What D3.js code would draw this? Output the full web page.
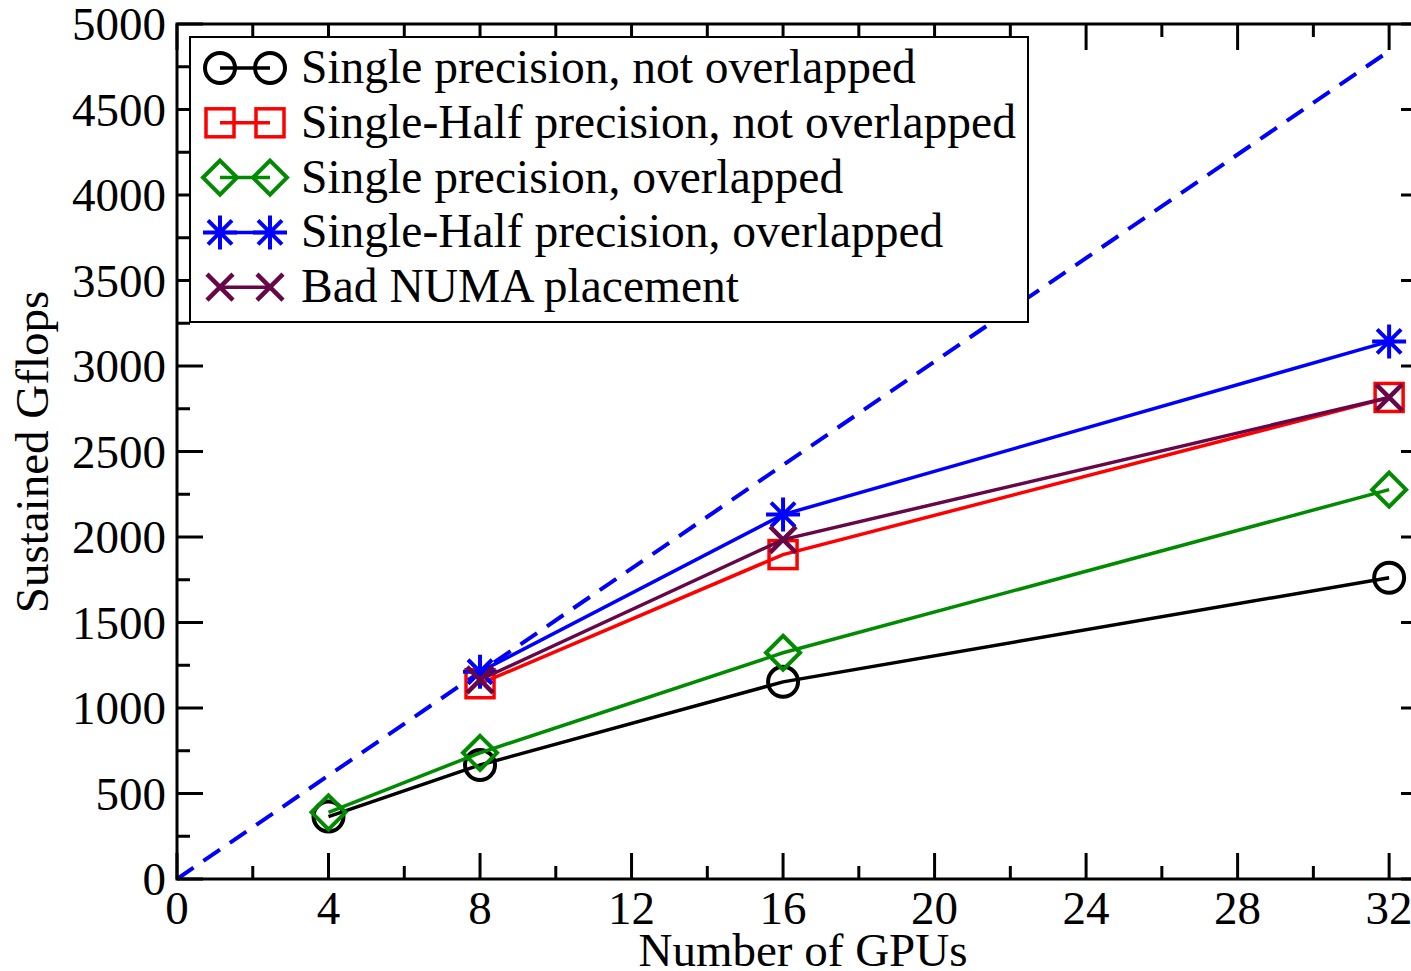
<!DOCTYPE html>
<html>
<head>
<meta charset="utf-8">
<script src="https://cdn.jsdelivr.net/npm/d3@7"></script>
<style>
  body { margin: 0; background: #fff; }
  svg text { font-family: "Liberation Serif", "DejaVu Serif", serif; }
</style>
</head>
<body>
<svg id="chart" width="1411" height="971"></svg>
<script>
// data
var gpus = [4, 8, 16, 32];
var singleNotOverlapped = [365, 667, 1153, 1762];
var halfNotOverlapped = [null, 1142, 1897, 2816];
var singleOverlapped = [390, 738, 1323, 2277];
var halfOverlapped = [null, 1212, 2131, 3144];
var badNuma = [null, 1165, 1985, 2816];
var idealX = [0, 32];
var idealY = [0, 4842];

var seriesNames = [
  "Single precision, not overlapped",
  "Single-Half precision, not overlapped",
  "Single precision, overlapped",
  "Single-Half precision, overlapped",
  "Bad NUMA placement"
];
var seriesColors = ["#000000", "#ff0000", "#008b00", "#0000ff", "#670748"];
var seriesSymbols = ["circle", "square", "diamond", "star", "cross"];
var seriesValues = [singleNotOverlapped, halfNotOverlapped, singleOverlapped, halfOverlapped, badNuma];

var xTicks = [0, 4, 8, 12, 16, 20, 24, 28, 32];
var yTicks = d3.range(0, 5001, 500);

var svg = d3.select("#chart");
var pLeft = 177, pRight = 1427, pTop = 24, pBottom = 879;

var x = d3.scaleLinear().domain([0, 33]).range([pLeft, pRight]);
var y = d3.scaleLinear().domain([0, 5000]).range([pBottom, pTop]);

// ideal scaling dashed line
svg.append("path")
  .attr("d", d3.line().x(function(d){ return x(d[0]); }).y(function(d){ return y(d[1]); })(d3.zip(idealX, idealY)))
  .attr("stroke", "#0000ff")
  .attr("stroke-width", 4)
  .attr("stroke-dasharray", "20,12")
  .attr("fill", "none");

function drawSymbol(g, type, cx, cy, color) {
  if (type == "circle") {
    g.append("circle").attr("cx", cx).attr("cy", cy).attr("r", 15)
      .attr("fill", "none").attr("stroke", color).attr("stroke-width", 4);
  } else if (type == "square") {
    g.append("rect").attr("x", cx - 14).attr("y", cy - 14).attr("width", 28).attr("height", 28)
      .attr("fill", "none").attr("stroke", color).attr("stroke-width", 3.5);
  } else if (type == "diamond") {
    var p = d3.path();
    p.moveTo(cx, cy - 17); p.lineTo(cx + 17, cy); p.lineTo(cx, cy + 17); p.lineTo(cx - 17, cy); p.closePath();
    g.append("path").attr("d", p.toString())
      .attr("fill", "none").attr("stroke", color).attr("stroke-width", 4);
  } else if (type == "star") {
    var s = d3.path(), r = 17, d = 12;
    s.moveTo(cx - r, cy); s.lineTo(cx + r, cy);
    s.moveTo(cx, cy - r); s.lineTo(cx, cy + r);
    s.moveTo(cx - d, cy - d); s.lineTo(cx + d, cy + d);
    s.moveTo(cx - d, cy + d); s.lineTo(cx + d, cy - d);
    g.append("path").attr("d", s.toString()).attr("stroke", color).attr("stroke-width", 4);
  } else if (type == "cross") {
    var c = d3.path(), k = 13;
    c.moveTo(cx - k, cy - k); c.lineTo(cx + k, cy + k);
    c.moveTo(cx - k, cy + k); c.lineTo(cx + k, cy - k);
    g.append("path").attr("d", c.toString()).attr("stroke", color).attr("stroke-width", 4.5);
  }
}

seriesValues.forEach(function(vals, i) {
  var pts = gpus.map(function(g, j){ return [g, vals[j]]; }).filter(function(d){ return d[1] != null; });
  var g = svg.append("g");
  g.append("path")
    .attr("d", d3.line().x(function(d){ return x(d[0]); }).y(function(d){ return y(d[1]); })(pts))
    .attr("stroke", seriesColors[i])
    .attr("stroke-width", 3.5)
    .attr("fill", "none");
  pts.forEach(function(d){ drawSymbol(g, seriesSymbols[i], x(d[0]), y(d[1]), seriesColors[i]); });
});

// frame and ticks
var axes = svg.append("g").attr("stroke", "#000").attr("stroke-width", 3);
axes.append("rect").attr("x", pLeft).attr("y", pTop).attr("width", pRight - pLeft).attr("height", pBottom - pTop)
  .attr("fill", "none");

var majLen = 26, minLen = 13;
d3.range(0, 33, 2).forEach(function(v) {
  var len = v % 4 == 0 ? majLen : minLen;
  axes.append("line").attr("x1", x(v)).attr("x2", x(v)).attr("y1", pBottom).attr("y2", pBottom - len);
  axes.append("line").attr("x1", x(v)).attr("x2", x(v)).attr("y1", pTop).attr("y2", pTop + len);
});
d3.range(0, 5001, 250).forEach(function(v) {
  var len = v % 500 == 0 ? majLen : minLen;
  axes.append("line").attr("x1", pLeft).attr("x2", pLeft + len).attr("y1", y(v)).attr("y2", y(v));
  axes.append("line").attr("x1", pRight).attr("x2", pRight - len).attr("y1", y(v)).attr("y2", y(v));
});

// tick labels
svg.append("g").selectAll("text").data(xTicks).join("text")
  .attr("x", function(d){ return x(d); })
  .attr("y", 924)
  .attr("text-anchor", "middle")
  .attr("font-size", 47)
  .text(function(d){ return d; });

svg.append("g").selectAll("text").data(yTicks).join("text")
  .attr("x", 166)
  .attr("y", function(d){ return y(d) + 16; })
  .attr("text-anchor", "end")
  .attr("font-size", 47)
  .text(function(d){ return d; });

// axis titles
svg.append("text")
  .attr("x", 803).attr("y", 966)
  .attr("text-anchor", "middle")
  .attr("font-size", 47)
  .text("Number of GPUs");

svg.append("text")
  .attr("transform", "translate(48,452) rotate(-90)")
  .attr("text-anchor", "middle")
  .attr("font-size", 47)
  .text("Sustained Gflops");

// legend
var legend = svg.append("g");
legend.append("rect")
  .attr("x", 190).attr("y", 37).attr("width", 838).attr("height", 285)
  .attr("fill", "#fff").attr("stroke", "#000").attr("stroke-width", 2);

seriesNames.forEach(function(name, i) {
  var ly = 68 + i * 54.8;
  var g = legend.append("g");
  g.append("line").attr("x1", 220).attr("x2", 270).attr("y1", ly).attr("y2", ly)
    .attr("stroke", seriesColors[i]).attr("stroke-width", 3.5);
  drawSymbol(g, seriesSymbols[i], 220, ly, seriesColors[i]);
  drawSymbol(g, seriesSymbols[i], 270, ly, seriesColors[i]);
  g.append("text").attr("x", 301).attr("y", ly + 15)
    .attr("font-size", 47.5)
    .text(name);
});
</script>
</body>
</html>
